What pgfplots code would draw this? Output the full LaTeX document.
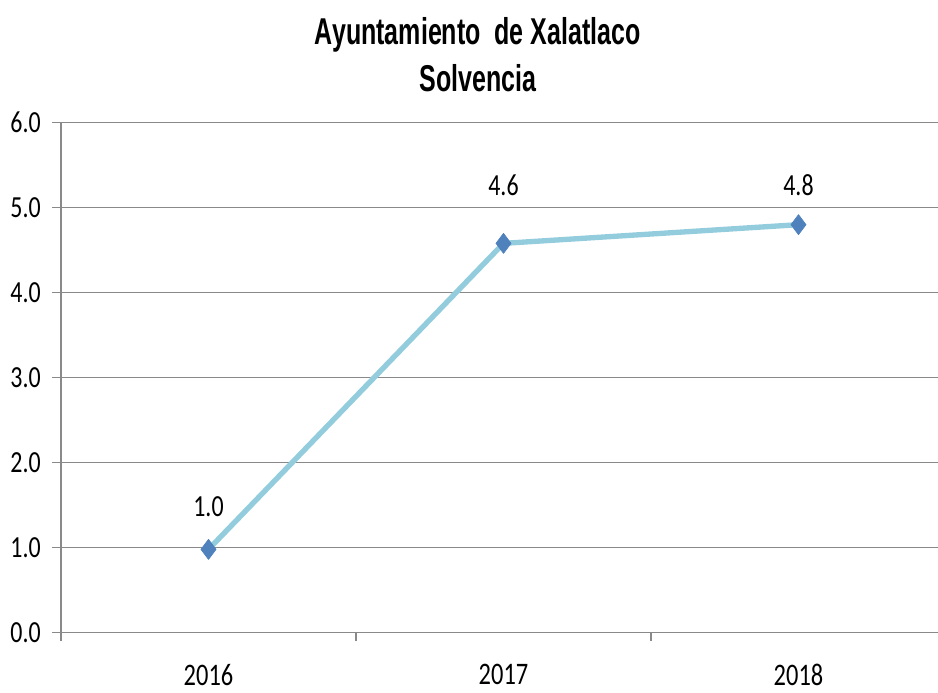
\documentclass[border=0pt]{standalone}
\usepackage{pgfplots}
\pgfplotsset{compat=1.18}
\usepackage{fontspec}
\setmainfont{Carlito}
\newfontfamily\labfont[FakeStretch=0.78]{Carlito}
\newfontfamily\ttlfont[FakeStretch=0.67]{Liberation Sans}
\definecolor{lineclr}{HTML}{93CDDD}
\definecolor{mkclr}{HTML}{4F81BD}
\definecolor{gridclr}{HTML}{898989}
\begin{document}
\begin{tikzpicture}
\begin{axis}[
  at={(0,0)}, anchor=south west,
  scale only axis,
  width=663.75pt, height=382.5pt,
  xmin=-0.5, xmax=2.5, ymin=0, ymax=6,
  xtick={-0.5,0.5,1.5,2.5},
  xticklabels={2016,2017,2018},
  x tick label as interval,
  ytick={0,1,2,3,4,5,6},
  yticklabel={\pgfmathprintnumber[fixed,fixed zerofill,precision=1,assume math mode=true]{\tick}},
  ymajorgrids,
  grid style={gridclr, line width=1.1pt},
  axis x line*=bottom, axis y line*=left,
  axis line style={-, gridclr, line width=1.1pt},
  tick style={gridclr, line width=0.8pt},
  tick align=outside,
  major tick length=6.5pt,
  yticklabel style={font=\labfont\fontsize{23}{27}\selectfont, anchor=east, inner sep=0pt, xshift=-8.5pt},
  xticklabel style={font=\labfont\fontsize{23.5}{28}\selectfont, anchor=north, inner sep=0pt, yshift=-17pt},
  clip=false,
  nodes near coords={\pgfmathprintnumber[fixed,fixed zerofill,precision=1,assume math mode=true]{\pgfplotspointmeta}},
  visualization depends on={\thisrow{off} \as \myoff},
  nodes near coords style={font=\labfont\fontsize{23}{27}\selectfont, anchor=base, inner sep=0pt, yshift=\myoff, text=black},
]
\addplot[lineclr, line width=4pt, line join=round, mark=diamond*, mark size=7.5pt,
  mark options={fill=mkclr, draw=mkclr, line width=0.5pt}]
  table[x=x, y=y, meta=y] {
x y off
0 0.98 24.5
1 4.58 36
2 4.80 21.75
};
\node[font=\ttlfont\bfseries\fontsize{28}{32}\selectfont, anchor=base] at (rel axis cs:0.471,1.1524) {Ayuntamiento\ \ de Xalatlaco};
\node[font=\ttlfont\bfseries\fontsize{28}{32}\selectfont, anchor=base] at (rel axis cs:0.471,1.0602) {Solvencia};
\end{axis}
\pgfresetboundingbox
\path[use as bounding box] (-45.75pt,-44.5pt) rectangle (657.75pt,474.5pt);
\end{tikzpicture}
\end{document}
